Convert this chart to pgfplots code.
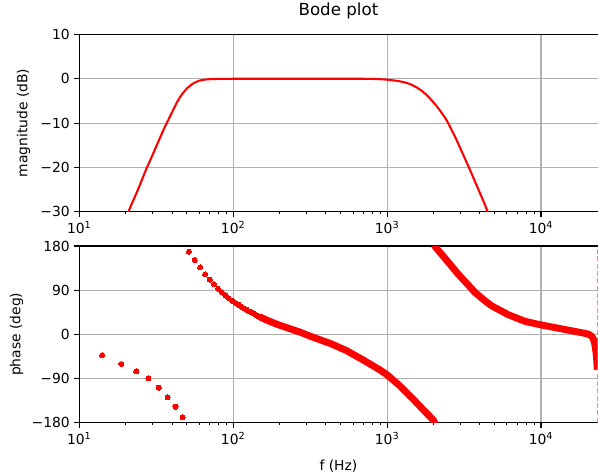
\documentclass[border=0pt]{standalone}
\usepackage{fontspec}
\setmainfont{DejaVu Sans}
\usepackage{pgfplots}
\pgfplotsset{compat=1.18}
\definecolor{gridgray}{HTML}{B0B0B0}
\begin{document}
\begin{tikzpicture}
\path[use as bounding box] (0,0) rectangle (448.5pt,354.75pt);
% ---------- magnitude ----------
\begin{axis}[
  scale only axis,
  width=388.7pt, height=132.9pt,
  at={(59.48pt,195.98pt)}, anchor=south west,
  xmode=log, xmin=10, xmax=23320,
  axis x line*=box, axis y line*=left,
  xtick pos=left, ytick pos=left,
  axis line style={black, line width=0.83pt},
  tick align=outside,
  major tick length=3.65pt, minor tick length=2.1pt,
  every tick/.style={black, line width=0.83pt},
  every minor tick/.style={black, line width=0.62pt},
  grid=major,
  major grid style={gridgray, line width=0.83pt},
  xtick={10,100,1000,10000},
  xticklabels={10\textsuperscript{1},10\textsuperscript{2},10\textsuperscript{3},10\textsuperscript{4}},
  tick label style={font=\fontsize{10.4}{12}\selectfont},
  ymin=-30, ymax=10,
  ytick={-30,-20,-10,0,10},
  yticklabels={−30,−20,−10,0,10},
  ylabel={magnitude (dB)},
  ylabel style={at={(axis description cs:0,0.5)}, anchor=center, yshift=41.9pt, font=\fontsize{10.4}{12}\selectfont},
  title={Bode plot},
  title style={at={(axis description cs:0.5,1)}, anchor=south, inner sep=0pt, yshift=5.6pt, font=\fontsize{12.5}{15}\selectfont},
]
\addplot[red, line width=1.56pt, line join=round, smooth, tension=0.4] coordinates {
(20,-31.5) (20.8,-30.1) (22,-28.1) (24,-25.1) (27,-20.7) (30,-17.1) (33,-13.8)
(36,-10.8) (38,-9.2) (40,-7.6) (43,-5.4) (46,-3.7) (50,-2.2) (55,-1.05)
(60,-0.45) (65,-0.2) (70,-0.1) (80,-0.03) (100,0) (200,0) (400,0) (700,0)
(850,-0.05) (1000,-0.2) (1200,-0.55) (1400,-1.15) (1600,-2.2) (1800,-3.6)
(2000,-5.3) (2200,-7.1) (2400,-9.0) (2500,-10.1) (2650,-11.8) (2800,-13.5)
(3100,-16.9) (3420,-20.2) (3800,-23.9) (4200,-27.4) (4600,-30.8) (4800,-32.3)
};
\end{axis}
% ---------- phase ----------
\begin{axis}[
  scale only axis,
  width=388.7pt, height=132.5pt,
  at={(59.48pt,37.73pt)}, anchor=south west,
  xmode=log, xmin=10, xmax=23320,
  axis x line*=box, axis y line*=left,
  xtick pos=left, ytick pos=left,
  axis line style={black, line width=0.83pt},
  tick align=outside,
  major tick length=3.65pt, minor tick length=2.1pt,
  every tick/.style={black, line width=0.83pt},
  every minor tick/.style={black, line width=0.62pt},
  grid=major,
  major grid style={gridgray, line width=0.83pt},
  xtick={10,100,1000,10000},
  xticklabels={10\textsuperscript{1},10\textsuperscript{2},10\textsuperscript{3},10\textsuperscript{4}},
  tick label style={font=\fontsize{10.4}{12}\selectfont},
  ymin=-180, ymax=180,
  ytick={-180,-90,0,90,180},
  yticklabels={−180,−90,0,90,180},
  ylabel={phase (deg)},
  ylabel style={at={(axis description cs:0,0.5)}, anchor=center, yshift=47.1pt, font=\fontsize{10.4}{12}\selectfont},
  xlabel={f (Hz)},
  xlabel style={at={(axis description cs:0.5,0)}, anchor=north, inner sep=0pt, yshift=-28pt, font=\fontsize{10.4}{12}\selectfont},
]
\addplot[only marks, mark=*, mark size=1.9pt, red, mark options={draw=red, fill=red, line width=0pt}] coordinates {
(14.06,-42.7) (18.75,-60.4) (23.44,-75.3) (28.13,-89.6) (32.81,-108.7)
(37.50,-128.3) (42.19,-147.4) (46.88,-169.1)
};
\addplot[only marks, mark=*, mark size=1.9pt, red, mark options={draw=red, fill=red, line width=0pt}] coordinates {
(51.56,168.4) (56.25,151.5) (60.94,136.5) (65.63,122.3) (70.31,111.4)
(75.00,102.4) (79.69,93.0) (84.38,85.6) (89.06,79.2) (93.75,73.7)
(98.44,68.7) (103.13,64.2) (107.81,60.3) (112.50,56.6) (117.19,53.2)
(121.88,50.1) (126.56,47.2) (131.25,44.5) (135.94,42.0) (140.63,39.6)
(145.31,37.4) (150.00,35.2) (154.69,33.2) (159.38,31.3) (164.06,29.5)
(168.75,27.8) (173.44,26.2) (178.13,24.7) (182.81,23.3) (187.50,21.9)
};
\addplot[red, line width=5.2pt, line join=round, line cap=round] coordinates {
(150,35.2) (164,29.5) (187.5,21.9) (201,18.5) (230,12.2) (250,8.3) (272,4.5)
(300,-0.8) (331,-6.1) (380,-12.8) (426,-18.3) (485,-26.1) (546,-33.2)
(620,-43.0) (700,-52.3) (800,-63.1) (900,-72.6) (1003,-82.8) (1100,-93.7)
(1213,-105.2) (1340,-118.8) (1480,-132.4) (1640,-147.0) (1808,-160.9)
(1900,-167.7) (1996,-174.5) (2036,-180) (2060,-183)
};
\addplot[red, line width=5.2pt, line join=round] coordinates {
(2020,182) (2100,175.0) (2200,167.5) (2378,155) (2650,137.3) (2901,122.5)
(3300,103.5) (3726,85.5) (4200,71.5) (4783,58) (5400,49.2) (6132,40)
(7873,26.5) (10105,19) (12954,12.5) (16629,6) (19317,2) (20500,0)
(21355,-4) (22000,-11) (22433,-22) (22800,-38) (23050,-55) (23200,-72)
};
\addplot[red!75, line width=0.8pt, dash pattern=on 3.8pt off 1.7pt] coordinates {(23200,-180) (23200,180)};
\end{axis}
\end{tikzpicture}
\end{document}
